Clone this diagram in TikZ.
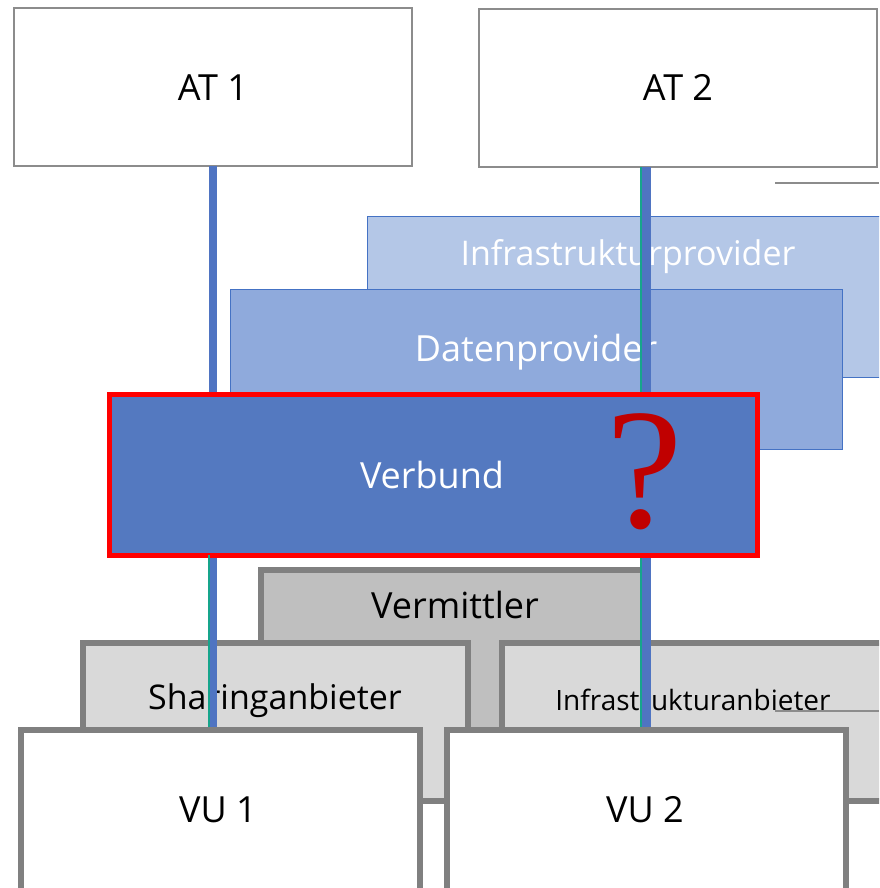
\documentclass[tikz,border=0pt]{standalone}
\usepackage{fontspec}
\setmainfont{Open Sans}
\newfontfamily\qfont{Liberation Serif}
\definecolor{atgray}{HTML}{8C8C8C}
\definecolor{boxgray}{HTML}{808080}
\definecolor{fillmid}{HTML}{BFBFBF}
\definecolor{filllight}{HTML}{D9D9D9}
\definecolor{provlight}{HTML}{B4C7E7}
\definecolor{provmid}{HTML}{8FAADC}
\definecolor{verbfill}{HTML}{5479C0}
\definecolor{edgeblue}{HTML}{4472C4}
\definecolor{lineblue}{HTML}{4F74C2}
\definecolor{lineteal}{HTML}{16A58C}
\definecolor{qred}{HTML}{C00000}
\tikzset{
  atbox/.style={draw=atgray, line width=1.5pt, fill=white, inner sep=0pt, outer sep=0pt},
  provbox/.style={draw=edgeblue, line width=1pt, inner sep=0pt, outer sep=0pt},
  verbbox/.style={draw=red, line width=5pt, fill=verbfill, inner sep=0pt, outer sep=0pt},
  graybox/.style={draw=boxgray, line width=6pt, inner sep=0pt, outer sep=0pt},
  lbl/.style={anchor=base, inner sep=0pt, font=\fontsize{36}{40}\selectfont},
  smalllbl/.style={anchor=base, inner sep=0pt, font=\fontsize{31}{36}\selectfont},
  blueline/.style={draw=lineblue, line width=8.5pt},
  tealline/.style={draw=lineteal, line width=2.2pt},
  thinline/.style={draw=atgray, line width=1.5pt}
}
\begin{document}
\begin{tikzpicture}[x=1pt,y=-1pt]
\useasboundingbox (0,0) rectangle (879,888);
\clip (0,0) rectangle (879,888);
% top boxes
\node[atbox, minimum width=398pt, minimum height=158pt] (at1) at (213,87) {};
\node[atbox, minimum width=398pt, minimum height=158pt] (at2) at (678,88) {};
\node[lbl] (at1t) at (213,101) {AT 1};
\node[lbl] (at2t) at (678,101) {AT 2};
\coordinate (g1a) at (775,183);
\coordinate (g1b) at (879,183);
\draw[thinline] (g1a) -- (g1b);
% provider layers
\node[provbox, fill=provlight, minimum width=553pt, minimum height=161pt] (infprov) at (643.5,296.5) {};
\node[lbl, text=white, font=\fontsize{34}{40}\selectfont] (infprovt) at (628,265) {Infrastrukturprovider};
\node[provbox, fill=provmid, minimum width=612pt, minimum height=160pt] (datprov) at (536,369) {};
\node[lbl, text=white] (datprovt) at (536,361) {Datenprovider};
% gray layers
\node[graybox, fill=fillmid, minimum width=384pt, minimum height=220pt] (verm) at (453,680) {};
\node[lbl] (vermt) at (455,618) {Vermittler};
\node[graybox, fill=filllight, minimum width=385pt, minimum height=158pt] (share) at (275.5,722) {};
\node[smalllbl, font=\fontsize{34}{38}\selectfont] (sharet) at (275,709) {Sharinganbieter};
\node[graybox, fill=filllight, minimum width=438pt, minimum height=158pt] (infanb) at (721,722) {};
\node[smalllbl, font=\fontsize{28}{32}\selectfont] (infanbt) at (693,710) {Infrastrukturanbieter};
\coordinate (g2a) at (775,711);
\coordinate (g2b) at (879,711);
\draw[thinline] (g2a) -- (g2b);
% bottom boxes (placed first for connector ends)
\path (220.25,815) node[minimum width=398.5pt, minimum height=170pt, inner sep=0pt, outer sep=0pt] (vu1) {};
\path (646.25,815) node[minimum width=398.5pt, minimum height=170pt, inner sep=0pt, outer sep=0pt] (vu2) {};
% vertical connectors
\draw[blueline] (at1.south) -- (at1.south |- vu1.north);
\draw[blueline] (at2.south -| vu2.north) -- (vu2.north);
\draw[tealline] ([xshift=-5.5pt]at2.south -| vu2.north) -- ([xshift=-5.5pt]vu2.north);
% Verbund
\node[verbbox, minimum width=648pt, minimum height=161pt] (verb) at (433,474.5) {};
\node[lbl, text=white] (verbt) at (432,488) {Verbund};
\node[anchor=base, inner sep=0pt, text=qred, font=\qfont\fontsize{172}{172}\selectfont] (q) at (645,527) {?};
\draw[tealline] ([xshift=-4pt]at1.south |- verb.south) -- ([xshift=-4pt]at1.south |- vu1.north);
% bottom boxes drawn
\node[graybox, fill=white, minimum width=398.5pt, minimum height=170pt] (vu1b) at (vu1) {};
\node[graybox, fill=white, minimum width=398.5pt, minimum height=170pt] (vu2b) at (vu2) {};
\node[lbl] (vu1t) at (218,822) {VU 1};
\node[lbl] (vu2t) at (645,822) {VU 2};
\end{tikzpicture}
\end{document}
